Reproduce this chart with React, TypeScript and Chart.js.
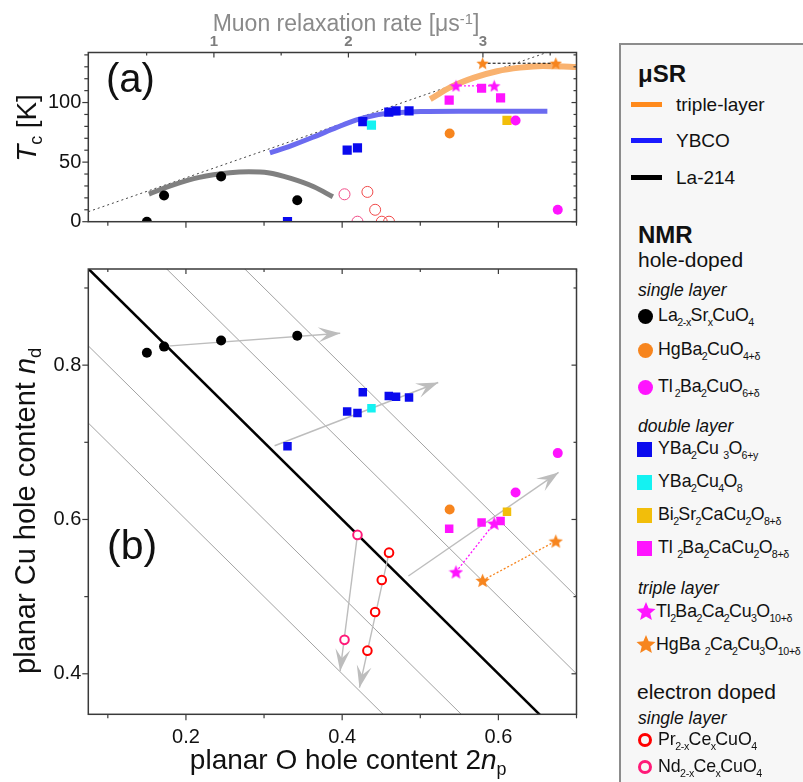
import React, { useEffect, useRef } from 'react';
import { Chart, registerables } from 'chart.js';
Chart.register(...registerables);

const FONT = "'Liberation Sans', Arial, Helvetica, sans-serif";
Chart.defaults.font.family = FONT;

// ---------- axes ----------
const X_MIN = 0.075, X_MAX = 0.7;
const TC_MIN = 0, TC_MAX = 142;
const ND_MIN = 0.3475, ND_MAX = 0.9246;
const MU_OFFSET = 0.0636, MU_SLOPE = 0.1722; // 2np = MU_OFFSET + MU_SLOPE * rate

const npTicks = [0.2, 0.4, 0.6];
const npMinorTicks = [0.1, 0.3, 0.5, 0.7];
const tcTicks = [0, 50, 100];
const tcMinorTicks = [10, 20, 30, 40, 60, 70, 80, 90, 110, 120, 130, 140];
const ndTicks = [0.4, 0.6, 0.8];
const ndMinorTicks = [0.5, 0.7, 0.9];
const muTicks = [1, 2, 3];
const muMinorTicks = [0.5, 1.5, 2.5, 3.5];
const diagSums = [0.8, 0.9, 1.1, 1.2];
const diagMainSum = 1.0;

// ---------- NMR data (2np, nd, Tc) ----------
const la214Np = [0.150, 0.172, 0.245, 0.3425];
const la214Nd = [0.816, 0.824, 0.832, 0.838];
const la214Tc = [0, 22, 38, 18];

const hg1201Np = [0.5376];
const hg1201Nd = [0.613];
const hg1201Tc = [74];

const tl2201Np = [0.622, 0.676];
const tl2201Nd = [0.635, 0.686];
const tl2201Tc = [85, 10];

const y123Np = [0.330, 0.4064, 0.4196, 0.4264, 0.4597, 0.469, 0.4856];
const y123Nd = [0.695, 0.740, 0.738, 0.765, 0.760, 0.759, 0.758];
const y123Tc = [0, 60, 62, 84, 92, 93, 93];

const y124Np = [0.4375];
const y124Nd = [0.744];
const y124Tc = [81];

const bi2212Np = [0.611];
const bi2212Nd = [0.610];
const bi2212Tc = [85];

const tl2212Np = [0.537, 0.5785, 0.6028];
const tl2212Nd = [0.588, 0.596, 0.598];
const tl2212Tc = [102, 112, 104];

const tl2223Np = [0.5457, 0.5947];
const tl2223Nd = [0.532, 0.595];
const tl2223Tc = [114, 114];

const hg1223Np = [0.5798, 0.6735];
const hg1223Nd = [0.521, 0.572];
const hg1223Tc = [133, 133];

const pccoNp = [0.4323, 0.4422, 0.4507, 0.46];
const pccoNd = [0.430, 0.480, 0.5215, 0.557];
const pccoTc = [25, 10, 0, 0];

const nccoNp = [0.403, 0.4196];
const nccoNd = [0.444, 0.580];
const nccoTc = [23, 0];

// ---------- arrows in (b): [start, end] ----------
const arrowLaNp = [0.1716, 0.3975];
const arrowLaNd = [0.8243, 0.8414];
const arrowYNp = [0.3135, 0.523];
const arrowYNd = [0.6955, 0.7775];
const arrowMultiNp = [0.4848, 0.677];
const arrowMultiNd = [0.5267, 0.661];
const arrowNdNp = [0.4196, 0.3974];
const arrowNdNd = [0.5804, 0.4035];
const arrowPrNp = [0.46, 0.4221];
const arrowPrNd = [0.5569, 0.382];

// ---------- muSR curves in (a) ----------
const laCurveNp = [0.1526, 0.1829, 0.2171, 0.2561, 0.2806, 0.305, 0.3343, 0.3637, 0.3881];
const laCurveTc = [23.2, 30.7, 37.2, 41.1, 41.9, 41.1, 36.3, 29.3, 20.9];
const ybcoCurveNp = [0.3075, 0.3343, 0.3637, 0.393, 0.4174, 0.4419, 0.4663, 0.5006, 0.5494, 0.6627];
const ybcoCurveTc = [57.8, 63.7, 71.2, 79.1, 85.2, 89.4, 91.3, 92.5, 92.7, 92.7];
const tripleCurveNp = [0.5127, 0.5395, 0.5689, 0.5982, 0.6276, 0.6569, 0.696, 0.71];
const tripleCurveTc = [102.8, 113.1, 120.9, 126.3, 129.3, 130.7, 129.9, 129.6];
const guideNp = [0.075, 0.662];
const guideTc = [8.4, 142];

// ---------- colours ----------
const C_BLACK = '#000000';
const C_ORANGE = '#f7851e';
const C_MAGENTA = '#ff14ff';
const C_BLUE = '#0a0aee';
const C_CYAN = '#14f2f2';
const C_GOLD = '#f2be0a';
const C_RED = '#ff0000';
const C_PINK = '#ff1a78';
const C_ARROW = '#bdbdbd';

const zip = (xs: number[], ys: number[]) => xs.map((v, i) => ({ x: v, y: ys[i] }));

function makeStar(color: string, size: number): HTMLCanvasElement {
  const c = document.createElement('canvas');
  c.width = size; c.height = size;
  const ctx = c.getContext('2d')!;
  const R = size / 2, r = R * 0.45, cx = size / 2, cy = size / 2 + R * 0.095;
  ctx.beginPath();
  for (let i = 0; i < 10; i++) {
    const rad = i % 2 === 0 ? R : r;
    const a = -Math.PI / 2 + (i * Math.PI) / 5;
    const px = cx + rad * Math.cos(a), py = cy + rad * Math.sin(a);
    if (i === 0) ctx.moveTo(px, py); else ctx.lineTo(px, py);
  }
  ctx.closePath();
  ctx.fillStyle = color;
  ctx.fill();
  return c;
}

type Side = { scale: string; side: 'left' | 'right' | 'top' | 'bottom'; out: boolean; major: number[]; minor: number[] };

function framePlugin(sides: Side[]) {
  return {
    id: 'frameTicks',
    afterDatasetsDraw(chart: any) {
      const { ctx, chartArea: ca } = chart;
      ctx.save();
      ctx.strokeStyle = '#3a3a3a';
      ctx.lineWidth = 1.5;
      ctx.strokeRect(ca.left, ca.top, ca.right - ca.left, ca.bottom - ca.top);
      ctx.lineWidth = 1.2;
      for (const s of sides) {
        const sc = chart.scales[s.scale];
        const draw = (v: number, len: number) => {
          const p = sc.getPixelForValue(v);
          ctx.beginPath();
          if (s.side === 'left') { ctx.moveTo(ca.left, p); ctx.lineTo(ca.left + (s.out ? -len : len), p); }
          if (s.side === 'right') { ctx.moveTo(ca.right, p); ctx.lineTo(ca.right + (s.out ? len : -len), p); }
          if (s.side === 'bottom') { ctx.moveTo(p, ca.bottom); ctx.lineTo(p, ca.bottom + (s.out ? len : -len)); }
          if (s.side === 'top') { ctx.moveTo(p, ca.top); ctx.lineTo(p, ca.top + (s.out ? -len : len)); }
          ctx.stroke();
        };
        s.major.forEach((v) => draw(v, s.out ? 6 : 5));
        s.minor.forEach((v) => draw(v, s.out ? 4 : 3));
      }
      ctx.restore();
    },
  };
}

const arrowPlugin = {
  id: 'arrowHeads',
  afterDatasetDraw(chart: any, args: any) {
    const ds: any = chart.data.datasets[args.index];
    if (!ds.arrow) return;
    const pts = args.meta.data;
    const a = pts[pts.length - 2], b = pts[pts.length - 1];
    const dx = b.x - a.x, dy = b.y - a.y;
    const len = Math.hypot(dx, dy);
    const ux = dx / len, uy = dy / len, nx = -uy, ny = ux;
    const L = 22, W = 7.5, N = 13;
    const ctx = chart.ctx;
    ctx.save();
    ctx.fillStyle = C_ARROW;
    ctx.beginPath();
    ctx.moveTo(b.x, b.y);
    ctx.lineTo(b.x - L * ux + W * nx, b.y - L * uy + W * ny);
    ctx.lineTo(b.x - N * ux, b.y - N * uy);
    ctx.lineTo(b.x - L * ux - W * nx, b.y - L * uy - W * ny);
    ctx.closePath();
    ctx.fill();
    ctx.restore();
  },
};

function pointSet(data: any[], style: any, color: string, radius: number, extra: any = {}) {
  return {
    data,
    pointStyle: style,
    pointRadius: radius,
    pointBackgroundColor: color,
    pointBorderColor: color,
    pointBorderWidth: 0,
    showLine: false,
    clip: 0,
    order: 0,
    ...extra,
  };
}

function lineSet(data: any[], color: string, width: number, extra: any = {}) {
  return {
    data,
    showLine: true,
    borderColor: color,
    borderWidth: width,
    pointRadius: 0,
    clip: 0,
    order: 5,
    ...extra,
  };
}

function configA(): any {
  const starMag = makeStar(C_MAGENTA, 13);
  const starOr = makeStar(C_ORANGE, 13);
  return {
    type: 'scatter',
    data: {
      datasets: [
        pointSet(zip(hg1223Np, hg1223Tc), starOr, C_ORANGE, 6),
        pointSet(zip(tl2223Np, tl2223Tc), starMag, C_MAGENTA, 6),
        pointSet(zip(tl2201Np, tl2201Tc), 'circle', C_MAGENTA, 5),
        pointSet(zip(bi2212Np, bi2212Tc), 'rect', C_GOLD, 6.5),
        pointSet(zip(tl2212Np, tl2212Tc), 'rect', C_MAGENTA, 6.5),
        pointSet(zip(hg1201Np, hg1201Tc), 'circle', C_ORANGE, 5),
        pointSet(zip(y124Np, y124Tc), 'rect', C_CYAN, 6.5),
        pointSet(zip(y123Np, y123Tc), 'rect', C_BLUE, 6.5),
        pointSet(zip(la214Np, la214Tc), 'circle', C_BLACK, 5),
        pointSet(zip(pccoNp, pccoTc), 'circle', '#ffffff', 5.5, { pointBackgroundColor: 'rgba(255,255,255,0)', pointBorderColor: '#f04a4a', pointBorderWidth: 1 }),
        pointSet(zip(nccoNp, nccoTc), 'circle', '#ffffff', 5.5, { pointBackgroundColor: 'rgba(255,255,255,0)', pointBorderColor: '#f04a86', pointBorderWidth: 1 }),
        lineSet(zip(hg1223Np, hg1223Tc), '#000000', 1, { borderDash: [3, 2], order: 3 }),
        lineSet(zip(tl2223Np, tl2223Tc), C_MAGENTA, 1.2, { borderDash: [2, 2], order: 3 }),
        lineSet(zip(tripleCurveNp, tripleCurveTc), '#f9b26f', 6, { cubicInterpolationMode: 'monotone' }),
        lineSet(zip(ybcoCurveNp, ybcoCurveTc), '#6b6bf0', 5, { cubicInterpolationMode: 'monotone' }),
        lineSet(zip(laCurveNp, laCurveTc), '#808080', 5, { cubicInterpolationMode: 'monotone' }),
        lineSet(zip(guideNp, guideTc), '#444444', 1, { borderDash: [2, 3], order: 8 }),
      ],
    },
    options: {
      responsive: false,
      animation: false,
      events: [],
      layout: { padding: { left: 0, right: 33.5, top: 0, bottom: 0 } },
      plugins: { legend: { display: false }, tooltip: { enabled: false } },
      scales: {
        x: {
          type: 'linear', position: 'bottom', min: X_MIN, max: X_MAX,
          grid: { display: false, drawTicks: false }, border: { display: false },
          ticks: { display: false },
          afterFit: (s: any) => { s.height = 28.3; },
        },
        x2: {
          type: 'linear', axis: 'x', position: 'top',
          min: (X_MIN - MU_OFFSET) / MU_SLOPE, max: (X_MAX - MU_OFFSET) / MU_SLOPE,
          grid: { display: false, drawTicks: false }, border: { display: false },
          afterBuildTicks: (s: any) => { s.ticks = muTicks.map((v) => ({ value: v })); },
          ticks: { padding: 2, color: '#7d7d7d', font: { size: 15, weight: 'bold' }, callback: (v: any) => String(v) },
          afterFit: (s: any) => { s.height = 52.5; },
        },
        y: {
          type: 'linear', position: 'left', min: TC_MIN, max: TC_MAX,
          grid: { display: false, drawTicks: false }, border: { display: false },
          afterBuildTicks: (s: any) => { s.ticks = tcTicks.map((v) => ({ value: v })); },
          ticks: { padding: 7, color: '#111', font: { size: 20 }, callback: (v: any) => String(v) },
          afterFit: (s: any) => { s.width = 88.3; },
        },
      },
    },
    plugins: [
      framePlugin([
        { scale: 'y', side: 'left', out: true, major: tcTicks, minor: tcMinorTicks },
        { scale: 'y', side: 'right', out: false, major: tcTicks, minor: tcMinorTicks },
        { scale: 'x', side: 'bottom', out: true, major: npTicks, minor: npMinorTicks },
        { scale: 'x2', side: 'top', out: false, major: muTicks, minor: muMinorTicks },
      ]),
    ],
  };
}

function configB(): any {
  const starMag = makeStar(C_MAGENTA, 15);
  const starOr = makeStar(C_ORANGE, 15);
  const arrow = (np: number[], nd: number[]) =>
    lineSet(zip(np, nd), C_ARROW, 1.4, { arrow: true, order: 4 });
  const diag = (c: number, color: string, w: number) =>
    lineSet([{ x: X_MIN, y: c - X_MIN }, { x: X_MAX, y: c - X_MAX }], color, w, { order: 9 });
  return {
    type: 'scatter',
    data: {
      datasets: [
        pointSet(zip(hg1223Np, hg1223Nd), starOr, C_ORANGE, 6),
        pointSet(zip(tl2223Np, tl2223Nd), starMag, C_MAGENTA, 6),
        pointSet(zip(tl2201Np, tl2201Nd), 'circle', C_MAGENTA, 5),
        pointSet(zip(bi2212Np, bi2212Nd), 'rect', C_GOLD, 6),
        pointSet(zip(tl2212Np, tl2212Nd), 'rect', C_MAGENTA, 6),
        pointSet(zip(hg1201Np, hg1201Nd), 'circle', C_ORANGE, 5),
        pointSet(zip(y124Np, y124Nd), 'rect', C_CYAN, 6),
        pointSet(zip(y123Np, y123Nd), 'rect', C_BLUE, 6),
        pointSet(zip(la214Np, la214Nd), 'circle', C_BLACK, 5),
        pointSet(zip(pccoNp, pccoNd), 'circle', '#ffffff', 4.3, { pointBackgroundColor: '#ffffff', pointBorderColor: C_RED, pointBorderWidth: 2 }),
        pointSet(zip(nccoNp, nccoNd), 'circle', '#ffffff', 4.3, { pointBackgroundColor: '#ffffff', pointBorderColor: C_PINK, pointBorderWidth: 2 }),
        lineSet(zip(hg1223Np, hg1223Nd), C_ORANGE, 1.3, { borderDash: [2, 2], order: 3 }),
        lineSet(zip(tl2223Np, tl2223Nd), C_MAGENTA, 1.3, { borderDash: [2, 2], order: 3 }),
        arrow(arrowLaNp, arrowLaNd),
        arrow(arrowYNp, arrowYNd),
        arrow(arrowMultiNp, arrowMultiNd),
        arrow(arrowNdNp, arrowNdNd),
        arrow(arrowPrNp, arrowPrNd),
        diag(diagMainSum, '#000000', 2.5),
        ...diagSums.map((c) => diag(c, '#8a8a8a', 0.8)),
      ],
    },
    options: {
      responsive: false,
      animation: false,
      events: [],
      layout: { padding: { left: 0, right: 33.5, top: 13.3, bottom: 0 } },
      plugins: { legend: { display: false }, tooltip: { enabled: false } },
      scales: {
        x: {
          type: 'linear', position: 'bottom', min: X_MIN, max: X_MAX,
          grid: { display: false, drawTicks: false }, border: { display: false },
          afterBuildTicks: (s: any) => { s.ticks = npTicks.map((v) => ({ value: v })); },
          ticks: { padding: 11, color: '#111', font: { size: 20 }, callback: (v: any) => String(v), maxRotation: 0 },
          afterFit: (s: any) => { s.height = 67.7; },
        },
        y: {
          type: 'linear', position: 'left', min: ND_MIN, max: ND_MAX,
          grid: { display: false, drawTicks: false }, border: { display: false },
          afterBuildTicks: (s: any) => { s.ticks = ndTicks.map((v) => ({ value: v })); },
          ticks: { padding: 7, color: '#111', font: { size: 20 }, callback: (v: any) => String(v) },
          afterFit: (s: any) => { s.width = 88.3; },
        },
      },
    },
    plugins: [
      arrowPlugin,
      framePlugin([
        { scale: 'y', side: 'left', out: true, major: ndTicks, minor: ndMinorTicks },
        { scale: 'y', side: 'right', out: false, major: ndTicks, minor: ndMinorTicks },
        { scale: 'x', side: 'bottom', out: true, major: npTicks, minor: npMinorTicks },
        { scale: 'x', side: 'top', out: false, major: npTicks, minor: npMinorTicks },
      ]),
    ],
  };
}

// ---------- HTML text helpers ----------
const ASC = 0.8465;
const Sub = ({ children }: any) => (
  <span style={{ fontSize: '0.64em', position: 'relative', top: '0.34em', letterSpacing: '-0.02em' }}>{children}</span>
);
const LSub = ({ children }: any) => (
  <span style={{ fontSize: '0.6em', position: 'relative', top: '0.4em', marginLeft: '-0.06em', marginRight: '-0.04em', letterSpacing: '-0.03em' }}>{children}</span>
);
const Sup = ({ children }: any) => (
  <span style={{ fontSize: '0.64em', position: 'relative', top: '-0.5em' }}>{children}</span>
);

function Txt({ x, y, size, children, style = {}, center = false }: any) {
  return (
    <div
      style={{
        position: 'absolute', left: x, top: y - ASC * size, fontSize: size, lineHeight: `${size}px`,
        fontFamily: FONT, whiteSpace: 'nowrap', transform: center ? 'translateX(-50%)' : undefined, ...style,
      }}
    >
      {children}
    </div>
  );
}

function VTxt({ x, y, size, children }: any) {
  return (
    <div
      style={{
        position: 'absolute', left: 0, top: 0, fontSize: size, lineHeight: `${size}px`, fontFamily: FONT,
        whiteSpace: 'nowrap', transformOrigin: '0 0',
        transform: `translate(${x}px, ${y}px) rotate(-90deg) translate(-50%, -${ASC * size}px)`,
      }}
    >
      {children}
    </div>
  );
}

// ---------- legend ----------
const muLegendLabels = ['triple-layer', 'YBCO', 'La-214'];
const muLegendColors = ['#ff8a1c', '#1a1aff', '#000000'];
const muLegendY = [104, 140, 177];

function Marker({ kind, color, y }: any) {
  if (kind === 'circle')
    return <div style={{ position: 'absolute', left: 638, top: y - 7.5, width: 15, height: 15, borderRadius: '50%', background: color }} />;
  if (kind === 'square')
    return <div style={{ position: 'absolute', left: 637, top: y - 7.5, width: 15, height: 15, background: color }} />;
  if (kind === 'open')
    return <div style={{ position: 'absolute', left: 638, top: y - 7, width: 14, height: 14, borderRadius: '50%', border: `3px solid ${color}`, boxSizing: 'border-box' }} />;
  const pts: string[] = [];
  for (let i = 0; i < 10; i++) {
    const rad = i % 2 === 0 ? 10 : 4.5;
    const a = -Math.PI / 2 + (i * Math.PI) / 5;
    pts.push(`${10 + rad * Math.cos(a)},${11 + rad * Math.sin(a)}`);
  }
  return (
    <svg style={{ position: 'absolute', left: 636, top: y - 11 }} width={20} height={21}>
      <polygon points={pts.join(' ')} fill={color} />
    </svg>
  );
}

const FS = 17.8;

export default function App() {
  const refA = useRef<HTMLCanvasElement>(null);
  const refB = useRef<HTMLCanvasElement>(null);
  useEffect(() => {
    const a = new Chart(refA.current!, configA());
    const b = new Chart(refB.current!, configB());
    return () => { a.destroy(); b.destroy(); };
  }, []);

  const nmrRows: any[] = [
    { kind: 'circle', color: C_BLACK, y: 316, label: <>La<LSub>2-x</LSub>Sr<LSub>x</LSub>CuO<LSub>4</LSub></> },
    { kind: 'circle', color: C_ORANGE, y: 350, label: <>HgBa<LSub>2</LSub>CuO<LSub>4+δ</LSub></> },
    { kind: 'circle', color: C_MAGENTA, y: 387, label: <>Tl<LSub> 2</LSub>Ba<LSub>2</LSub>CuO<LSub>6+δ</LSub></> },
    { kind: 'square', color: C_BLUE, y: 449, label: <>YBa<LSub>2</LSub>Cu <LSub>3</LSub>O<LSub>6+y</LSub></> },
    { kind: 'square', color: C_CYAN, y: 482, label: <>YBa<LSub>2</LSub>Cu<LSub>4</LSub>O<LSub>8</LSub></> },
    { kind: 'square', color: C_GOLD, y: 515, label: <>Bi<LSub>2</LSub>Sr<LSub>2</LSub>CaCu<LSub>2</LSub>O<LSub>8+δ</LSub></> },
    { kind: 'square', color: C_MAGENTA, y: 548, label: <>Tl <LSub>2</LSub>Ba<LSub>2</LSub>CaCu<LSub>2</LSub>O<LSub>8+δ</LSub></> },
    { kind: 'star', color: C_MAGENTA, y: 612, label: <>Tl<LSub>2</LSub>Ba<LSub>2</LSub>Ca<LSub>2</LSub>Cu<LSub>3</LSub>O<LSub>10+δ</LSub></> },
    { kind: 'star', color: C_ORANGE, y: 645, label: <>HgBa <LSub>2</LSub>Ca<LSub>2</LSub>Cu<LSub>3</LSub>O<LSub>10+δ</LSub></> },
    { kind: 'open', color: C_RED, y: 740, label: <>Pr<LSub>2-x</LSub>Ce<LSub>x</LSub>CuO<LSub>4</LSub></> },
    { kind: 'open', color: C_PINK, y: 767, label: <>Nd<LSub>2-x</LSub>Ce<LSub>x</LSub>CuO<LSub>4</LSub></> },
  ];

  return (
    <div style={{ position: 'fixed', left: 0, top: 0, width: 803, height: 782, background: '#ffffff', overflow: 'hidden', fontFamily: FONT, color: '#111' }}>
      <canvas ref={refA} width={610} height={250} style={{ position: 'absolute', left: 0, top: 0, width: 610, height: 250 }} />
      <canvas ref={refB} width={610} height={532} style={{ position: 'absolute', left: 0, top: 250, width: 610, height: 532 }} />

      <Txt x={346} y={31.5} size={23} center style={{ color: '#8a8a8a' }}>
        Muon relaxation rate [μs<Sup>-1</Sup>]
      </Txt>
      <Txt x={106} y={92} size={40}>(a)</Txt>
      <Txt x={107} y={560} size={41}>(b)</Txt>
      <VTxt x={37} y={128} size={28}><i>T</i><Sub>c</Sub> [K]</VTxt>
      <VTxt x={36} y={511} size={29}>planar Cu hole content <i>n</i><Sub>d</Sub></VTxt>
      <Txt x={348} y={770} size={28} center>planar O hole content 2<i>n</i><Sub>p</Sub></Txt>

      <div style={{ position: 'absolute', left: 619, top: 43, width: 200, height: 760, border: '2px solid #8c8c8c', background: '#f7f7f7', boxSizing: 'border-box' }} />

      <Txt x={638} y={82} size={24} style={{ fontWeight: 'bold' }}>μSR</Txt>
      {muLegendLabels.map((lab, i) => (
        <React.Fragment key={lab}>
          <div style={{ position: 'absolute', left: 631, top: muLegendY[i] - 2.5, width: 31, height: 5, background: muLegendColors[i] }} />
          <Txt x={676} y={muLegendY[i] + 6.8} size={19}>{lab}</Txt>
        </React.Fragment>
      ))}

      <Txt x={638} y={243} size={24} style={{ fontWeight: 'bold' }}>NMR</Txt>
      <Txt x={638} y={267} size={21}>hole-doped</Txt>
      <Txt x={638} y={297} size={17.5} style={{ fontStyle: 'italic' }}>single layer</Txt>
      <Txt x={638} y={433} size={17.5} style={{ fontStyle: 'italic' }}>double layer</Txt>
      <Txt x={638} y={595} size={17.5} style={{ fontStyle: 'italic' }}>triple layer</Txt>
      <Txt x={637} y={699} size={21}>electron doped</Txt>
      <Txt x={638} y={725} size={17.5} style={{ fontStyle: 'italic' }}>single layer</Txt>

      {nmrRows.map((r, i) => (
        <React.Fragment key={i}>
          <Marker kind={r.kind} color={r.color} y={r.y} />
          <Txt x={r.kind === 'star' ? 656 : 658} y={r.y + 6.4} size={FS}>{r.label}</Txt>
        </React.Fragment>
      ))}
    </div>
  );
}
